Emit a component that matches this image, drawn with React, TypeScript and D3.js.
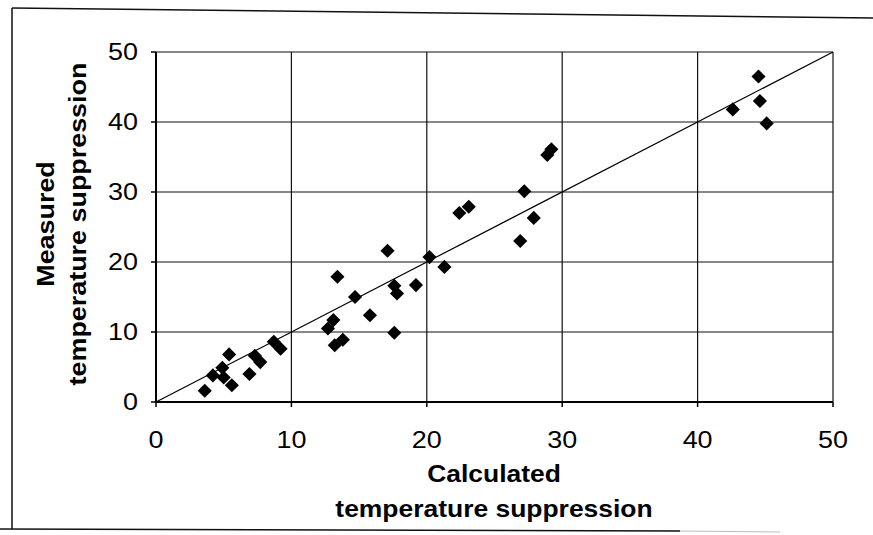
import React from "react";
import * as d3 from "d3";

const calculated = [
  3.6, 4.2, 4.9, 5.4, 5.0, 5.6, 6.9, 7.3, 7.7, 8.7, 9.2,
  13.4, 14.7, 17.6, 17.8, 19.2, 20.2, 17.1, 15.8, 13.1, 12.7, 17.6, 13.8, 13.2,
  21.3, 22.4, 23.1, 27.2, 27.9, 26.9, 28.9, 29.2,
  44.5, 44.6, 42.6, 45.1,
];
const measured = [
  1.6, 3.8, 4.9, 6.8, 3.5, 2.4, 4.0, 6.6, 5.7, 8.6, 7.6,
  17.9, 15.0, 16.6, 15.5, 16.7, 20.7, 21.6, 12.4, 11.7, 10.5, 9.9, 8.9, 8.1,
  19.3, 27.0, 27.9, 30.1, 26.3, 23.0, 35.3, 36.1,
  46.5, 43.0, 41.8, 39.8,
];
const xTicks = [0, 10, 20, 30, 40, 50];
const yTicks = [0, 10, 20, 30, 40, 50];
const xTitle = ["Calculated", "temperature suppression"];
const yTitle = ["Measured", "temperature suppression"];

const W = 873;
const H = 535;
const FONT = "'Liberation Sans', Arial, Helvetica, sans-serif";

export default function App() {
  const x = d3.scaleLinear().domain([0, 50]).range([156, 833]);
  const y = d3.scaleLinear().domain([0, 50]).range([402, 52]);
  const diamond = d3.symbol().type(d3.symbolSquare).size(100)() as string;
  const diag = d3.line<number>().x((v) => x(v)).y((v) => y(v))([0, 50]) as string;
  const pts = calculated.map((c, i) => [c, measured[i]]);

  return (
    <svg
      width={W}
      height={H}
      style={{ position: "absolute", left: 0, top: 0, background: "#fff" }}
    >
      {/* outer frame */}
      <line x1={12} y1={8} x2={873} y2={18} stroke="#111" strokeWidth={1.5} />
      <line x1={12} y1={8} x2={12} y2={529} stroke="#111" strokeWidth={1.5} />
      <line x1={0} y1={529} x2={680} y2={531} stroke="#111" strokeWidth={1.5} />
      <line x1={680} y1={531} x2={780} y2={532} stroke="#bbb" strokeWidth={1} />

      {/* gridlines */}
      {xTicks.map((t) => (
        <line key={"gx" + t} x1={x(t)} x2={x(t)} y1={y(50)} y2={y(0)} stroke="#111" strokeWidth={1.2} />
      ))}
      {yTicks.map((t) => (
        <line key={"gy" + t} x1={x(0)} x2={x(50)} y1={y(t)} y2={y(t)} stroke="#111" strokeWidth={1.2} />
      ))}
      {/* axes */}
      <line x1={x(0)} x2={x(0)} y1={y(50)} y2={y(0)} stroke="#000" strokeWidth={2} />
      <line x1={x(0)} x2={x(50)} y1={y(0)} y2={y(0)} stroke="#000" strokeWidth={2} />
      {yTicks.map((t) => (
        <line key={"ty" + t} x1={x(0) - 5} x2={x(0)} y1={y(t)} y2={y(t)} stroke="#000" strokeWidth={1.5} />
      ))}
      {xTicks.map((t) => (
        <line key={"tx" + t} x1={x(t)} x2={x(t)} y1={y(0)} y2={y(0) + 5} stroke="#000" strokeWidth={1.5} />
      ))}

      {/* 1:1 line */}
      <path d={diag} stroke="#000" strokeWidth={1.2} fill="none" />

      {/* points */}
      {pts.map(([c, m], i) => (
        <path
          key={"p" + i}
          d={diamond}
          transform={`translate(${x(c)},${y(m)}) rotate(45)`}
          fill="#000"
        />
      ))}

      {/* tick labels */}
      {yTicks.map((t) => (
        <text
          key={"ly" + t}
          transform={`translate(138,${y(t) + 8}) scale(1.17,1)`}
          textAnchor="end"
          fontFamily={FONT}
          fontSize={23}
          fill="#000"
        >
          {t}
        </text>
      ))}
      {xTicks.map((t) => (
        <text
          key={"lx" + t}
          transform={`translate(${x(t)},448) scale(1.17,1)`}
          textAnchor="middle"
          fontFamily={FONT}
          fontSize={23}
          fill="#000"
        >
          {t}
        </text>
      ))}

      {/* x title */}
      {xTitle.map((s, i) => (
        <text
          key={"xt" + i}
          transform={`translate(494,${482 + i * 35}) scale(1.15,1)`}
          textAnchor="middle"
          fontFamily={FONT}
          fontWeight="bold"
          fontSize={23}
          fill="#000"
        >
          {s}
        </text>
      ))}
      {/* y title */}
      {yTitle.map((s, i) => (
        <text
          key={"yt" + i}
          transform={`translate(${54 + i * 32},224) rotate(-90) scale(1.17,1)`}
          textAnchor="middle"
          fontFamily={FONT}
          fontWeight="bold"
          fontSize={23}
          fill="#000"
        >
          {s}
        </text>
      ))}
    </svg>
  );
}
